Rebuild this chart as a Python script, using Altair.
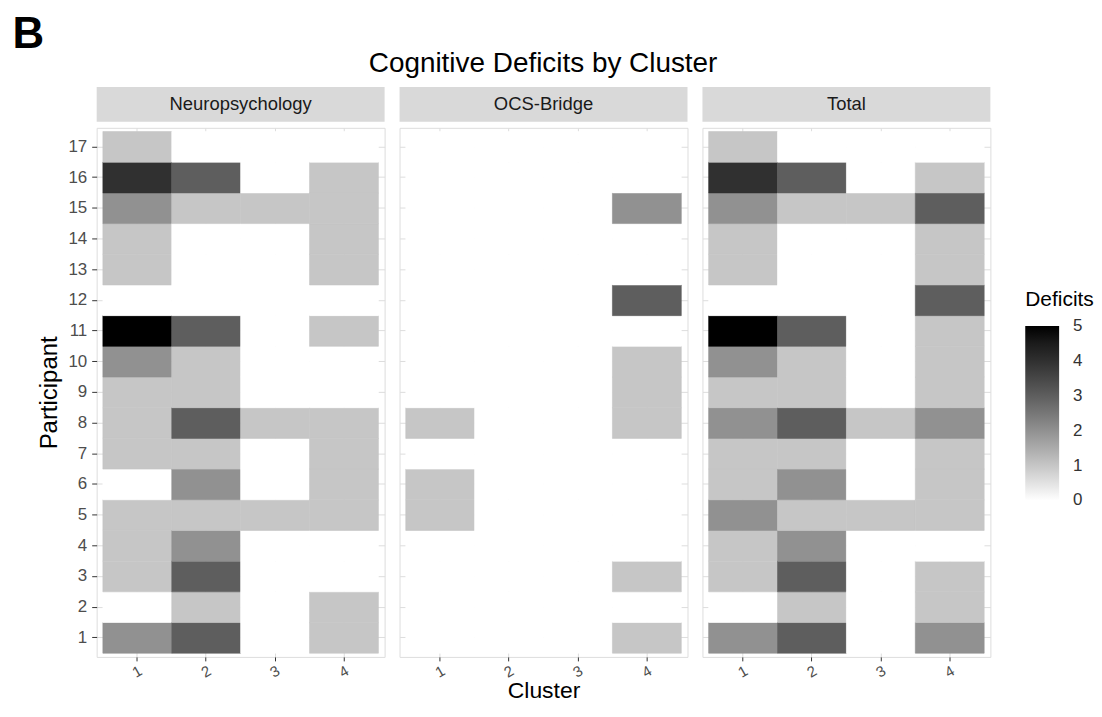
import altair as alt
import pandas as pd

participants = list(range(1, 18))
clusters = [1, 2, 3, 4]
panel_names = ["Neuropsychology", "OCS-Bridge", "Total"]

# values listed for participant 1 .. 17
neuro_c1 = [2, 0, 1, 1, 1, 0, 1, 1, 1, 2, 5, 0, 1, 1, 2, 4, 1]
neuro_c2 = [3, 1, 3, 2, 1, 2, 1, 3, 1, 1, 3, 0, 0, 0, 1, 3, 0]
neuro_c3 = [0, 0, 0, 0, 1, 0, 0, 1, 0, 0, 0, 0, 0, 0, 1, 0, 0]
neuro_c4 = [1, 1, 0, 0, 1, 1, 1, 1, 0, 0, 1, 0, 1, 1, 1, 1, 0]

ocs_c1 = [0, 0, 0, 0, 1, 1, 0, 1, 0, 0, 0, 0, 0, 0, 0, 0, 0]
ocs_c2 = [0, 0, 0, 0, 0, 0, 0, 0, 0, 0, 0, 0, 0, 0, 0, 0, 0]
ocs_c3 = [0, 0, 0, 0, 0, 0, 0, 0, 0, 0, 0, 0, 0, 0, 0, 0, 0]
ocs_c4 = [1, 0, 1, 0, 0, 0, 0, 1, 1, 1, 0, 3, 0, 0, 2, 0, 0]

total_c1 = [2, 0, 1, 1, 2, 1, 1, 2, 1, 2, 5, 0, 1, 1, 2, 4, 1]
total_c2 = [3, 1, 3, 2, 1, 2, 1, 3, 1, 1, 3, 0, 0, 0, 1, 3, 0]
total_c3 = [0, 0, 0, 0, 1, 0, 0, 1, 0, 0, 0, 0, 0, 0, 1, 0, 0]
total_c4 = [2, 1, 1, 0, 1, 1, 1, 2, 1, 1, 1, 3, 1, 1, 3, 1, 0]

legend_values = [0.001, 1, 2, 3, 4, 4.999]

panel_values = {
    "Neuropsychology": [neuro_c1, neuro_c2, neuro_c3, neuro_c4],
    "OCS-Bridge": [ocs_c1, ocs_c2, ocs_c3, ocs_c4],
    "Total": [total_c1, total_c2, total_c3, total_c4],
}


def frame(name):
    rows = []
    for c, vals in zip(clusters, panel_values[name]):
        for p, v in zip(participants, vals):
            rows.append({"Panel": name, "Cluster": c, "Participant": p, "Deficits": v})
    return pd.DataFrame(rows)


W, H = 289, 531
FONT = "Liberation Sans"

fill_scale = alt.Scale(domain=[0, 5], range=["#ffffff", "#000000"], interpolate="lab")

color = alt.Color(
    "Deficits:Q",
    scale=fill_scale,
    legend=alt.Legend(
        title="Deficits",
        orient="none",
        legendX=932,
        legendY=162,
        gradientLength=175,
        gradientThickness=34,
        values=legend_values,
        labelExpr="format(round(datum.value), 'd')",
        titleFontSize=21,
        titleFontWeight="normal",
        titleColor="#000000",
        labelFontSize=17,
        labelColor="#333333",
        labelBaseline="middle",
        titlePadding=16,
        labelOffset=14,
        labelOverlap=False,
        gradientStrokeWidth=0,
        titleFont=FONT,
        labelFont=FONT,
    ),
)


def make_panel(name, idx):
    df = frame(name)
    first = idx == 0
    middle = idx == 1
    strip = alt.Chart(pd.DataFrame({"Panel": [name]})).mark_rect(color="#d9d9d9").encode(
        x=alt.value(0), x2=alt.value(W), y=alt.value(-41), y2=alt.value(-6)
    )
    label = alt.Chart(pd.DataFrame({"Panel": [name]})).mark_text(
        fontSize=18.5, color="#1a1a1a", font=FONT, baseline="middle"
    ).encode(text="Panel:N", x=alt.value(W / 2), y=alt.value(-23.5))

    if first:
        yaxis = alt.Axis(
            title="Participant", titleFontSize=24, titleFontWeight="normal",
            titleColor="#000000", titlePadding=6, labelFontSize=17,
            labelColor="#4d4d4d", tickSize=5, tickColor="#333333",
            domain=False, labelPadding=5, grid=True, bandPosition=0.5, zindex=0,
        )
    else:
        yaxis = alt.Axis(title=None, labels=False, ticks=False, domain=False,
                         grid=True, bandPosition=0.5, zindex=0)

    xaxis = alt.Axis(
        title="Cluster" if middle else None, titleFontSize=23,
        titleFontWeight="normal", titleColor="#000000", titlePadding=0,
        labelAngle=-30, labelFontSize=15, labelColor="#4d4d4d",
        tickSize=4, tickColor="#333333", domain=False, labelPadding=2,
        grid=True, bandPosition=0.5, zindex=0,
    )
    heat = alt.Chart(df).mark_rect(
        strokeWidth=0.6, stroke=alt.expr("scale('color', datum.Deficits)")
    ).encode(
        x=alt.X("Cluster:O", scale=alt.Scale(paddingInner=0, paddingOuter=0.09), axis=xaxis),
        y=alt.Y("Participant:O", sort="descending",
                scale=alt.Scale(paddingInner=0, paddingOuter=0.12), axis=yaxis),
        color=color,
    )
    return alt.layer(strip, label, heat).properties(width=W, height=H)


inner = alt.hconcat(
    *[make_panel(n, i) for i, n in enumerate(panel_names)], spacing=13
).properties(
    title=alt.TitleParams("Cognitive Deficits by Cluster", fontSize=28,
                          fontWeight="normal", anchor="middle", color="#000000",
                          font=FONT, offset=9, dx=29)
)

chart = alt.vconcat(inner).properties(
    title=alt.TitleParams("B", fontSize=44, fontWeight="bold", anchor="start",
                          color="#000000", font=FONT, offset=-7, dx=-25),
    padding={"left": 4, "top": 3, "right": 0, "bottom": 0},
).configure_view(
    stroke=None, fill="#ebebeb"
).configure_axis(
    gridColor="#ffffff", gridWidth=1.2, labelFont=FONT, titleFont=FONT
).configure(background="#ffffff")

chart.save("out.html", embed_options={"renderer": "svg", "actions": False})
